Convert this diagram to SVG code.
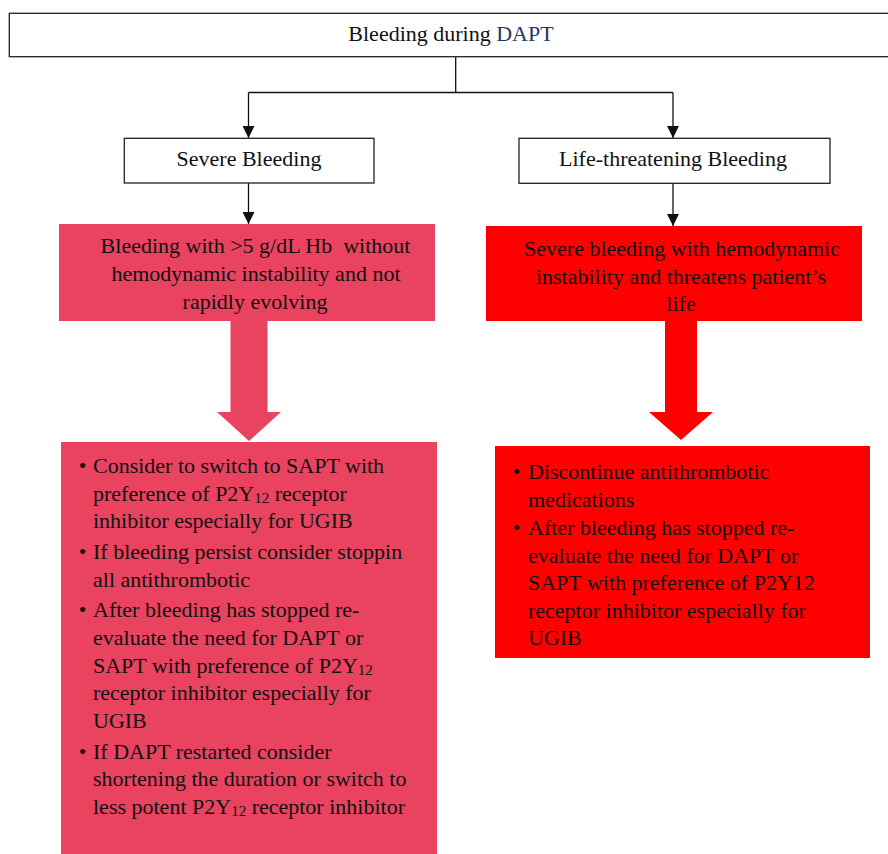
<svg xmlns="http://www.w3.org/2000/svg" width="888" height="854" viewBox="0 0 888 854">
<style>
  text { font-family: 'Liberation Serif', 'DejaVu Serif', serif; font-size: 22px; fill: #111; }
  .c { text-anchor: middle; }
  .box { fill: #fff; stroke: #222; stroke-width: 1.3; }
  .pink { fill: #E9435F; }
  .red { fill: #FF0000; }
  .conn { fill: none; stroke: #111; stroke-width: 1.3; }
  .sub { font-size: 15px; }
</style>
<defs>
  <marker id="ah" markerWidth="12" markerHeight="12" refX="12" refY="6" orient="auto" markerUnits="userSpaceOnUse">
    <path d="M0,0 L12,6 L0,12 z" fill="#111"/>
  </marker>
</defs>
<rect width="888" height="854" fill="#fff"/>

<g id="connectors">
  <path class="conn" d="M455.7,56.7 V92.5 M248.5,92.5 H673"/>
  <line class="conn" x1="248.5" y1="92.5" x2="248.5" y2="138" marker-end="url(#ah)"/>
  <line class="conn" x1="673" y1="92.5" x2="673" y2="138" marker-end="url(#ah)"/>
  <line class="conn" x1="248.5" y1="183" x2="248.5" y2="224" marker-end="url(#ah)"/>
  <line class="conn" x1="673" y1="183" x2="673" y2="226" marker-end="url(#ah)"/>
  <polygon class="pink" points="230.5,320 267.5,320 267.5,412 281,412 249,441 217,412 230.5,412"/>
  <polygon class="red" points="665,320 697,320 697,412 713,412 681,440 649,412 665,412"/>
</g>

<g id="root">
  <rect class="box" x="9.3" y="13.3" width="890" height="43.4"/>
  <text class="c" x="451" y="41">Bleeding during <tspan fill="#1F3864">DAPT</tspan></text>
</g>

<g id="severe">
  <rect class="box" x="124.3" y="138.3" width="249.7" height="44.7"/>
  <text class="c" x="249" y="166">Severe Bleeding</text>
</g>

<g id="life">
  <rect class="box" x="519" y="138.3" width="311" height="45"/>
  <text class="c" x="673" y="166">Life-threatening Bleeding</text>
</g>

<g id="severe-desc">
  <rect class="pink" x="59" y="224" width="376" height="97"/>
  <text class="c" x="255.5" y="253" xml:space="preserve">Bleeding with &gt;5 g/dL Hb  without</text>
  <text class="c" x="256" y="281">hemodynamic instability and not</text>
  <text class="c" x="255" y="309">rapidly evolving</text>
</g>

<g id="life-desc">
  <rect class="red" x="486" y="226" width="376" height="95"/>
  <text class="c" x="682" y="256">Severe bleeding with hemodynamic</text>
  <text class="c" x="681" y="283.7">instability and threatens patient’s</text>
  <text class="c" x="681" y="311.4">life</text>
</g>

<g id="severe-actions">
  <rect class="pink" x="61" y="442" width="376" height="420"/>
  <text class="c" x="82.5" y="473">•</text>
  <text x="93" y="473">Consider to switch to SAPT with</text>
  <text x="93" y="500.6">preference of P2Y<tspan class="sub" dy="2">12</tspan><tspan dy="-2"> receptor</tspan></text>
  <text x="93" y="528.2">inhibitor especially for UGIB</text>
  <text class="c" x="82.5" y="559">•</text>
  <text x="93" y="559">If bleeding persist consider stoppin</text>
  <text x="93" y="586.6">all antithrombotic</text>
  <text class="c" x="82.5" y="617.4">•</text>
  <text x="93" y="617.4">After bleeding has stopped re-</text>
  <text x="93" y="645">evaluate the need for DAPT or</text>
  <text x="93" y="672.6">SAPT with preference of P2Y<tspan class="sub" dy="2">12</tspan></text>
  <text x="93" y="700.2">receptor inhibitor especially for</text>
  <text x="93" y="727.8">UGIB</text>
  <text class="c" x="82.5" y="758.6">•</text>
  <text x="93" y="758.6">If DAPT restarted consider</text>
  <text x="93" y="786.2">shortening the duration or switch to</text>
  <text x="93" y="813.8">less potent P2Y<tspan class="sub" dy="2">12</tspan><tspan dy="-2"> receptor inhibitor</tspan></text>
</g>

<g id="life-actions">
  <rect class="red" x="495" y="446" width="375" height="212"/>
  <text class="c" x="516.5" y="479">•</text>
  <text x="528" y="479">Discontinue antithrombotic</text>
  <text x="528" y="506.6">medications</text>
  <text class="c" x="516.5" y="535">•</text>
  <text x="528" y="535">After bleeding has stopped re-</text>
  <text x="528" y="562.6">evaluate the need for DAPT or</text>
  <text x="528" y="590.2">SAPT with preference of P2Y12</text>
  <text x="528" y="617.8">receptor inhibitor especially for</text>
  <text x="528" y="645.4">UGIB</text>
</g>
</svg>
